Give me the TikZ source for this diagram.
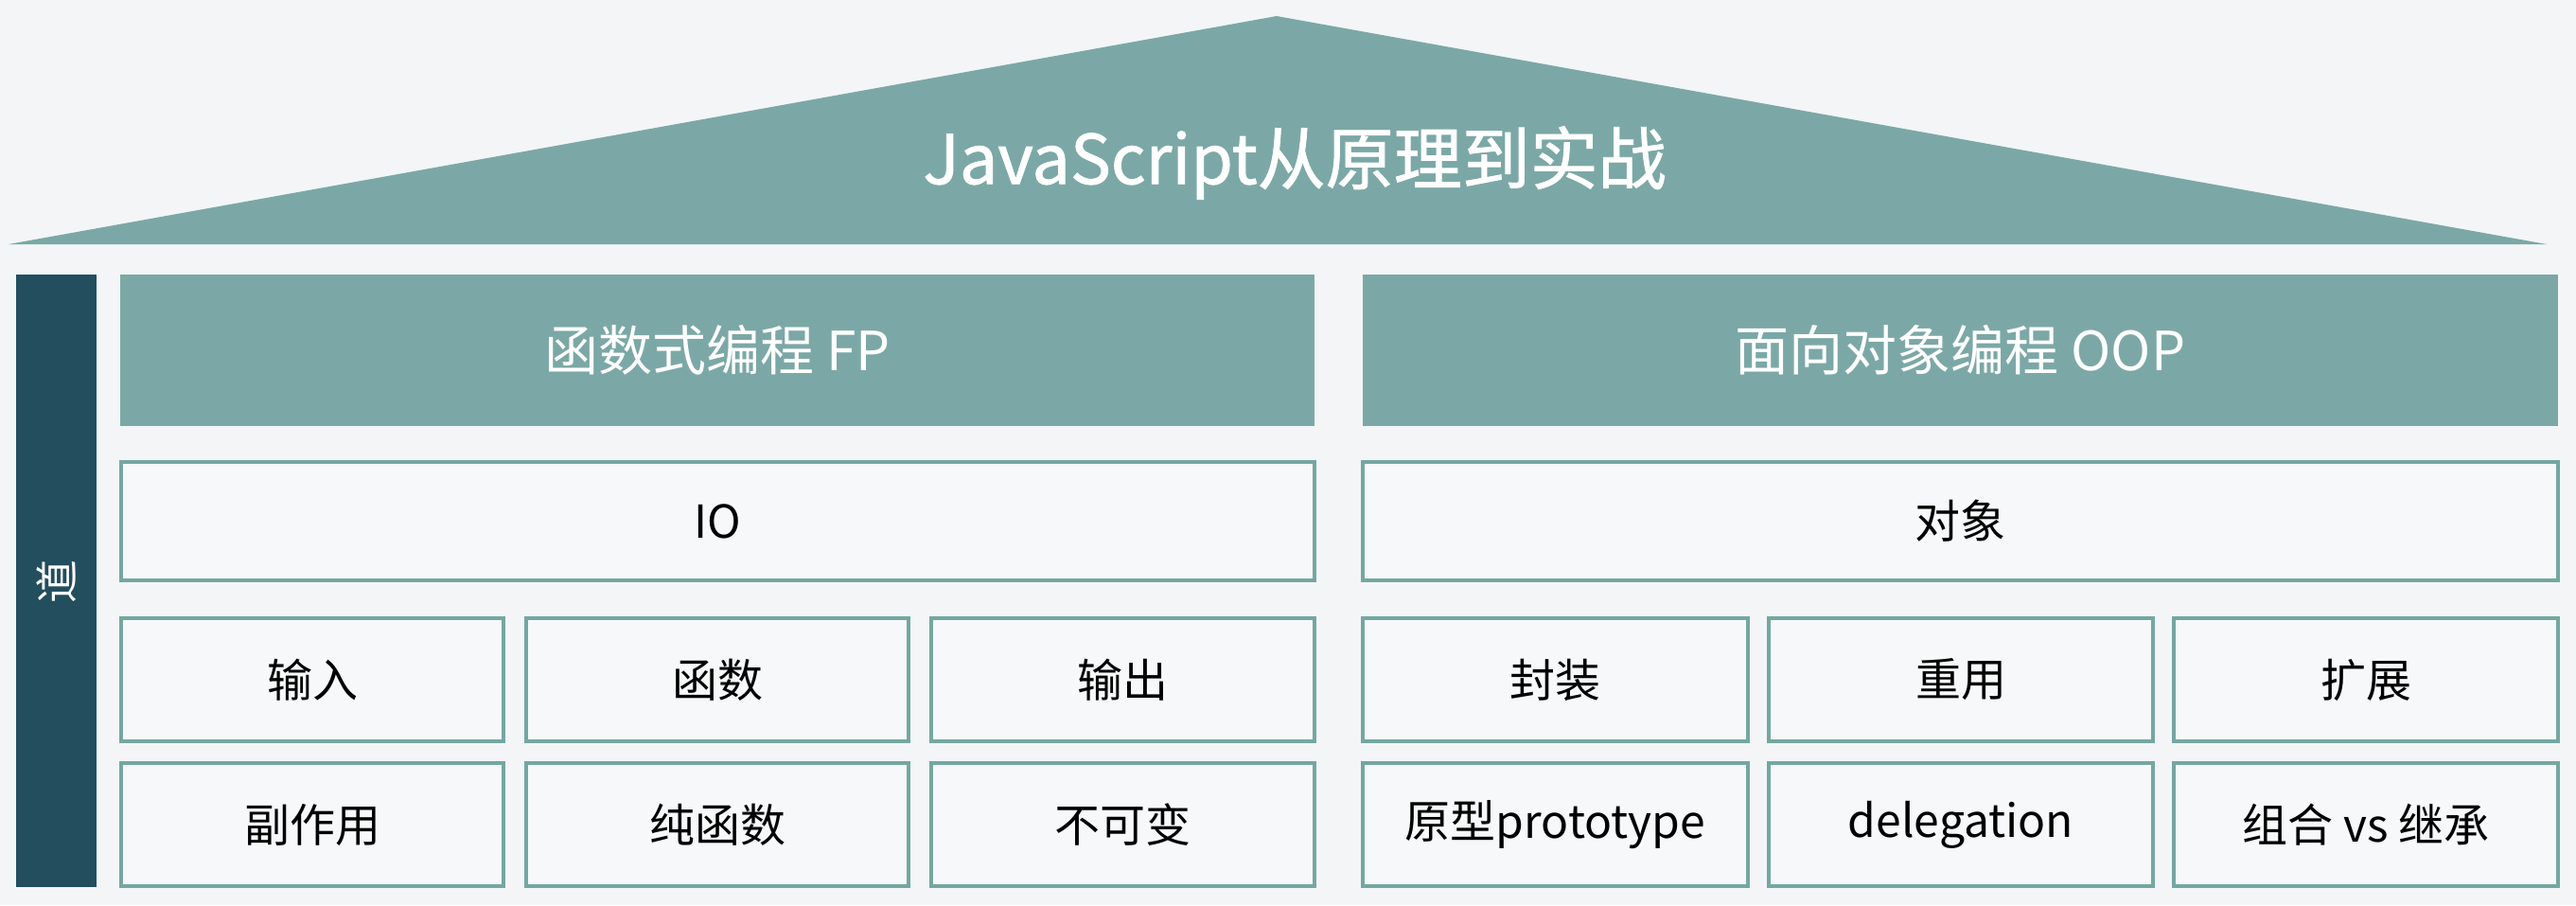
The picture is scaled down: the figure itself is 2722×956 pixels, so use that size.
\documentclass[tikz,border=0pt]{standalone}
\usepackage{fontspec}
\setmainfont{Noto Sans CJK SC}
\newfontfamily\titlefont[FakeBold=1.2]{Noto Sans CJK SC}
\definecolor{bg}{HTML}{F3F5F7}
\definecolor{teal}{HTML}{7BA8A6}
\definecolor{darkbar}{HTML}{234E5E}
\definecolor{boxline}{HTML}{74A7A1}
\definecolor{boxfill}{HTML}{F6F8F9}
\begin{document}
\begin{tikzpicture}[x=1pt,y=-1pt,
  header/.style={fill=teal,draw=none,inner sep=0pt,text=white,font=\fontsize{57}{62}\selectfont},
  cell/.style={fill=boxfill,draw=boxline,line width=3.5pt,inner sep=0pt,text=black,font=\fontsize{48}{54}\selectfont},
  bar/.style={fill=darkbar,draw=none,inner sep=0pt}]
\useasboundingbox[fill=bg] (0,0) rectangle (2722,956);
% roof
\path[fill=teal] (9,258) -- (1349,17) -- (2691,258) -- cycle;
\node[text=white,font=\titlefont\fontsize{72}{80}\selectfont] (title) at (1368,172) {JavaScript从原理到实战};
% left bar
\node[bar,minimum width=85pt,minimum height=647pt] (dao) at (59.5,613.5) {};
\node[text=white,rotate=90,font=\fontsize{46}{50}\selectfont] (daotext) at (59.5,614) {道};
% headers
\node[header,minimum width=1262pt,minimum height=160pt] (fp) at (758,370) {函数式编程 FP};
\node[header,minimum width=1263pt,minimum height=160pt] (oop) at (2071.5,370) {面向对象编程 OOP};
% row 1
\node[cell,minimum width=1261pt,minimum height=125pt] (io) at (758.5,550.5) {IO};
\node[cell,minimum width=1263pt,minimum height=125pt] (obj) at (2071.5,550.5) {对象};
% row 2
\node[cell,minimum width=404pt,minimum height=130pt] (in) at (330,718) {输入};
\node[cell,minimum width=404pt,minimum height=130pt] (fn) at (758,718) {函数};
\node[cell,minimum width=405pt,minimum height=130pt] (out) at (1186.5,718) {输出};
\node[cell,minimum width=407pt,minimum height=130pt] (enc) at (1643.5,718) {封装};
\node[cell,minimum width=406pt,minimum height=130pt] (reuse) at (2072,718) {重用};
\node[cell,minimum width=406pt,minimum height=130pt] (ext) at (2500,718) {扩展};
% row 3
\node[cell,minimum width=404pt,minimum height=130pt] (side) at (330,871) {副作用};
\node[cell,minimum width=404pt,minimum height=130pt] (pure) at (758,871) {纯函数};
\node[cell,minimum width=405pt,minimum height=130pt] (immut) at (1186.5,871) {不可变};
\node[cell,minimum width=407pt,minimum height=130pt] (proto) at (1643.5,871) {原型prototype};
\node[cell,minimum width=406pt,minimum height=130pt] (deleg) at (2072,871) {delegation};
\node[cell,minimum width=406pt,minimum height=130pt] (comp) at (2500,871) {组合 vs 继承};
\end{tikzpicture}
\end{document}
